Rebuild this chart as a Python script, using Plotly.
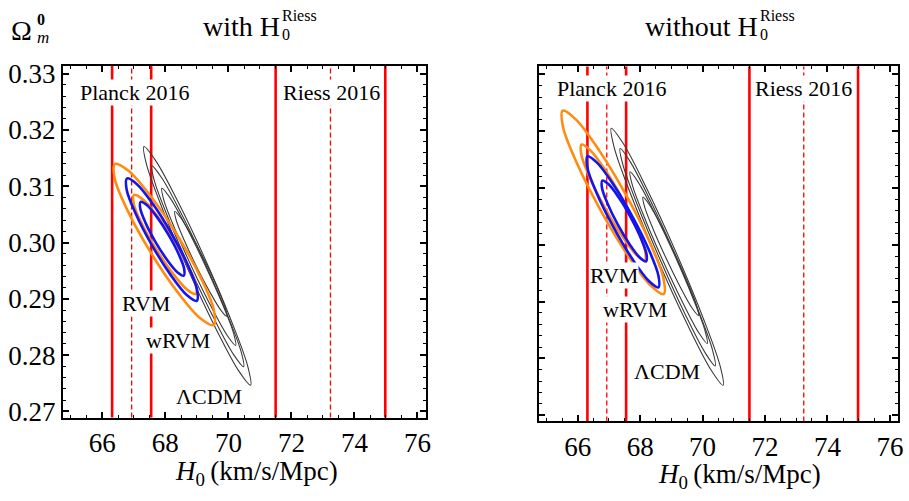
import plotly.graph_objects as go

FONT = "Liberation Serif"

# ---------------- data ----------------
planck_lines = [66.31, 66.93, 67.55]      # lower / central / upper
riess_lines = [71.50, 73.24, 74.98]
line_is_dashed = [False, True, False]

x_tickvals = [66, 68, 70, 72, 74, 76]
y_tickvals = [0.27, 0.28, 0.29, 0.30, 0.31, 0.32, 0.33]

# ---- left panel: with H0 Riess ----
L_wrvm_2s_h0 = [69.534, 69.541, 69.126, 68.402, 67.560, 66.829, 66.402, 66.395, 66.810, 67.535, 68.376, 69.107]
L_wrvm_2s_om = [0.28535, 0.28798, 0.29373, 0.30107, 0.30804, 0.31276, 0.31397, 0.31134, 0.30559, 0.29825, 0.29128, 0.28656]
L_wrvm_1s_h0 = [68.965, 68.969, 68.709, 68.254, 67.728, 67.270, 67.003, 66.999, 67.259, 67.714, 68.240, 68.698]
L_wrvm_1s_om = [0.29087, 0.29249, 0.29604, 0.30056, 0.30483, 0.30772, 0.30845, 0.30683, 0.30328, 0.29877, 0.29449, 0.29160]
L_rvm_2s_h0 = [68.997, 69.007, 68.718, 68.207, 67.611, 67.089, 66.781, 66.771, 67.060, 67.571, 68.167, 68.689]
L_rvm_2s_om = [0.28966, 0.29160, 0.29592, 0.30148, 0.30679, 0.31041, 0.31138, 0.30944, 0.30512, 0.29956, 0.29426, 0.29063]
L_rvm_1s_h0 = [68.585, 68.596, 68.421, 68.106, 67.736, 67.410, 67.215, 67.204, 67.379, 67.694, 68.064, 68.390]
L_rvm_1s_om = [0.29414, 0.29534, 0.29797, 0.30133, 0.30452, 0.30668, 0.30724, 0.30604, 0.30341, 0.30005, 0.29686, 0.29470]
L_lcdm_4_h0 = [70.706, 70.624, 70.111, 69.303, 68.418, 67.692, 67.320, 67.402, 67.915, 68.723, 69.608, 70.334]
L_lcdm_4_om = [0.27465, 0.27784, 0.28585, 0.29655, 0.30706, 0.31457, 0.31707, 0.31388, 0.30587, 0.29517, 0.28466, 0.27715]
L_lcdm_3_h0 = [70.484, 70.404, 69.956, 69.259, 68.501, 67.883, 67.572, 67.652, 68.100, 68.797, 69.556, 70.173]
L_lcdm_3_om = [0.27793, 0.28061, 0.28734, 0.29634, 0.30519, 0.31151, 0.31362, 0.31095, 0.30422, 0.29522, 0.28637, 0.28005]
L_lcdm_2_h0 = [70.231, 70.168, 69.808, 69.247, 68.637, 68.140, 67.889, 67.952, 68.313, 68.873, 69.484, 69.980]
L_lcdm_2_om = [0.28172, 0.28383, 0.28911, 0.29616, 0.30308, 0.30802, 0.30966, 0.30755, 0.30227, 0.29522, 0.28830, 0.28336]
L_lcdm_1_h0 = [69.946, 69.907, 69.658, 69.266, 68.835, 68.482, 68.300, 68.339, 68.588, 68.980, 69.411, 69.764]
L_lcdm_1_om = [0.28690, 0.28833, 0.29188, 0.29658, 0.30119, 0.30446, 0.30552, 0.30409, 0.30054, 0.29584, 0.29123, 0.28796]

# ---- right panel: without H0 Riess ----
R_wrvm_2s_h0 = [68.754, 68.747, 68.308, 67.555, 66.690, 65.944, 65.518, 65.525, 65.964, 66.717, 67.582, 68.328]
R_wrvm_2s_om = [0.29132, 0.29409, 0.30044, 0.30868, 0.31658, 0.32204, 0.32360, 0.32083, 0.31448, 0.30624, 0.29834, 0.29288]
R_wrvm_1s_h0 = [68.151, 68.155, 67.886, 67.415, 66.870, 66.397, 66.121, 66.117, 66.386, 66.857, 67.402, 67.876]
R_wrvm_1s_om = [0.29730, 0.29907, 0.30308, 0.30827, 0.31324, 0.31666, 0.31762, 0.31585, 0.31184, 0.30665, 0.30168, 0.29826]
R_rvm_2s_h0 = [68.585, 68.587, 68.284, 67.756, 67.146, 66.617, 66.311, 66.309, 66.612, 67.140, 67.750, 68.279]
R_rvm_2s_om = [0.29251, 0.29450, 0.29904, 0.30492, 0.31057, 0.31446, 0.31557, 0.31358, 0.30904, 0.30316, 0.29751, 0.29362]
R_rvm_1s_h0 = [68.193, 68.204, 68.023, 67.700, 67.321, 66.987, 66.787, 66.776, 66.957, 67.280, 67.660, 67.993]
R_rvm_1s_om = [0.29708, 0.29833, 0.30115, 0.30479, 0.30827, 0.31065, 0.31130, 0.31005, 0.30723, 0.30359, 0.30011, 0.29773]
R_lcdm_4_h0 = [70.658, 70.563, 70.014, 69.157, 68.221, 67.459, 67.073, 67.167, 67.716, 68.573, 69.509, 70.271]
R_lcdm_4_om = [0.27527, 0.27864, 0.28717, 0.29857, 0.30979, 0.31783, 0.32053, 0.31716, 0.30863, 0.29723, 0.28601, 0.27797]
R_lcdm_3_h0 = [70.404, 70.316, 69.844, 69.114, 68.322, 67.679, 67.358, 67.446, 67.918, 68.648, 69.440, 70.083]
R_lcdm_3_om = [0.27868, 0.28152, 0.28871, 0.29835, 0.30784, 0.31464, 0.31694, 0.31410, 0.30691, 0.29727, 0.28778, 0.28098]
R_lcdm_2_h0 = [70.149, 70.078, 69.694, 69.101, 68.457, 67.935, 67.675, 67.746, 68.130, 68.723, 69.367, 69.889]
R_lcdm_2_om = [0.28262, 0.28487, 0.29056, 0.29818, 0.30568, 0.31104, 0.31284, 0.31059, 0.30490, 0.29728, 0.28979, 0.28442]
R_lcdm_1_h0 = [69.864, 69.817, 69.545, 69.120, 68.657, 68.279, 68.088, 68.135, 68.407, 68.832, 69.295, 69.673]
R_lcdm_1_om = [0.28756, 0.28914, 0.29308, 0.29834, 0.30350, 0.30718, 0.30840, 0.30682, 0.30288, 0.29762, 0.29246, 0.28878]

# ---------------- styles ----------------
ORANGE = "#FF8C10"
BLUE = "#1414F0"
BLACK_C = "#3a3a3a"
RED = "#FF0000"

W, H = 909, 501
def px(x):
    return x / W
def py(y):
    return 1 - y / H


def closed(a):
    # start the closed path at a flank so the join is smooth
    return a[3:] + a[:4]


fig = go.Figure()

panels = [
    ("x", "y", [
        (L_lcdm_4_h0, L_lcdm_4_om, BLACK_C, 1.1),
        (L_lcdm_3_h0, L_lcdm_3_om, BLACK_C, 1.1),
        (L_lcdm_2_h0, L_lcdm_2_om, BLACK_C, 1.1),
        (L_lcdm_1_h0, L_lcdm_1_om, BLACK_C, 1.1),
        (L_wrvm_2s_h0, L_wrvm_2s_om, ORANGE, 2.6),
        (L_wrvm_1s_h0, L_wrvm_1s_om, ORANGE, 2.6),
        (L_rvm_2s_h0, L_rvm_2s_om, BLUE, 2.6),
        (L_rvm_1s_h0, L_rvm_1s_om, BLUE, 2.6),
    ]),
    ("x2", "y2", [
        (R_lcdm_4_h0, R_lcdm_4_om, BLACK_C, 1.1),
        (R_lcdm_3_h0, R_lcdm_3_om, BLACK_C, 1.1),
        (R_lcdm_2_h0, R_lcdm_2_om, BLACK_C, 1.1),
        (R_lcdm_1_h0, R_lcdm_1_om, BLACK_C, 1.1),
        (R_wrvm_2s_h0, R_wrvm_2s_om, ORANGE, 2.6),
        (R_wrvm_1s_h0, R_wrvm_1s_om, ORANGE, 2.6),
        (R_rvm_2s_h0, R_rvm_2s_om, BLUE, 2.6),
        (R_rvm_1s_h0, R_rvm_1s_om, BLUE, 2.6),
    ]),
]

for xa, ya, contours in panels:
    for hx, om, col, wd in contours:
        fig.add_trace(go.Scatter(
            x=closed(hx), y=closed(om), mode="lines",
            line=dict(color=col, width=wd, shape="spline", smoothing=1.0),
            xaxis=xa, yaxis=ya, showlegend=False, hoverinfo="skip"))

# vertical reference lines
shapes = []
for xr in ("x", "x2"):
    yr = "y domain" if xr == "x" else "y2 domain"
    for vals in (planck_lines, riess_lines):
        for v, dashed in zip(vals, line_is_dashed):
            shapes.append(dict(
                type="line", xref=xr, yref=yr, x0=v, x1=v, y0=0, y1=1,
                layer="below",
                line=dict(color=RED, width=1.3 if dashed else 2.6,
                          dash="5px,3px" if dashed else "solid")))

x_range = [64.75, 76.27]
y_range = [0.2689, 0.3314]

axis_common = dict(
    showline=True, linewidth=2, linecolor="black", mirror="allticks",
    ticks="inside", ticklen=6, tickwidth=1.5, tickcolor="black",
    showgrid=False, zeroline=False,
    tickfont=dict(family=FONT, size=27, color="black"),
)

fig.update_layout(
    width=W, height=H,
    margin=dict(l=0, r=0, t=0, b=0),
    paper_bgcolor="white", plot_bgcolor="white",
    showlegend=False,
    shapes=shapes,
    xaxis=dict(domain=[px(63.3), px(428.3)], range=x_range, tickvals=x_tickvals,
               anchor="y",
               minor=dict(dtick=0.5, ticklen=3, tickwidth=1.2, ticks="inside",
                          tickcolor="black", showgrid=False),
               **axis_common),
    yaxis=dict(domain=[py(424.3), py(61.7)], range=y_range, tickvals=y_tickvals,
               tickformat=".2f", anchor="x",
               minor=dict(dtick=0.002, ticklen=3, tickwidth=1.2, ticks="inside",
                          tickcolor="black", showgrid=False),
               **axis_common),
    xaxis2=dict(domain=[px(541.7), px(903.3)], range=x_range, tickvals=x_tickvals,
                anchor="y2",
                minor=dict(dtick=0.5, ticklen=3, tickwidth=1.2, ticks="inside",
                           tickcolor="black", showgrid=False),
                **axis_common),
    yaxis2=dict(domain=[py(428.3), py(62.3)], range=y_range, tickvals=y_tickvals,
                showticklabels=False, anchor="x2",
                minor=dict(dtick=0.002, ticklen=3, tickwidth=1.2, ticks="inside",
                           tickcolor="black", showgrid=False),
                **axis_common),
)

ann = []

def text_paper(x, y, s, size, xanchor="center", yanchor="middle"):
    ann.append(dict(x=px(x), y=py(y), xref="paper", yref="paper", text=s,
                    showarrow=False, xanchor=xanchor, yanchor=yanchor,
                    borderpad=0,
                    font=dict(family=FONT, size=size, color="black")))

def label(xr, yr, x, y, s, size=22):
    ann.append(dict(x=x, y=y, xref=xr, yref=yr, text=s, showarrow=False,
                    xanchor="center", yanchor="middle", bgcolor="white",
                    borderpad=0,
                    font=dict(family=FONT, size=size, color="black")))

# Omega_m^0 label
text_paper(33, 25, "Ω", 28, xanchor="right")
text_paper(36, 14, "<b>0</b>", 16, xanchor="left")
text_paper(36, 32, "<i>m</i>", 17, xanchor="left")

# panel titles
text_paper(283, 21, "with H", 28, xanchor="right")
text_paper(283, 10, "Riess", 16, xanchor="left")
text_paper(283, 29, "0", 16, xanchor="left")
text_paper(763, 21, "without H", 28, xanchor="right")
text_paper(763, 10, "Riess", 16, xanchor="left")
text_paper(763, 29, "0", 16, xanchor="left")

# x-axis titles
text_paper(258, 481, "<i>H</i><sub>0</sub>\u2009(km/s/Mpc)", 27)
text_paper(744, 484, "<i>H</i><sub>0</sub>\u2009(km/s/Mpc)", 27)

# in-plot labels
label("x", "y", 67.03, 0.3267, "Planck 2016")
label("x", "y", 73.26, 0.3267, "Riess 2016")
label("x", "y", 67.38, 0.2892, "RVM")
label("x", "y", 68.40, 0.2826, "wRVM")
label("x", "y", 69.39, 0.2726, "ΛCDM")
label("x2", "y2", 67.07, 0.3275, "Planck 2016")
label("x2", "y2", 73.24, 0.3275, "Riess 2016")
label("x2", "y2", 67.16, 0.2946, "RVM")
label("x2", "y2", 67.82, 0.2886, "wRVM")
label("x2", "y2", 68.86, 0.2777, "ΛCDM")

fig.update_layout(annotations=ann)

fig.write_html(
    "out.html",
    config={"displayModeBar": False},
    post_script="document.body.style.margin='0';document.body.style.overflow='hidden';",
)
